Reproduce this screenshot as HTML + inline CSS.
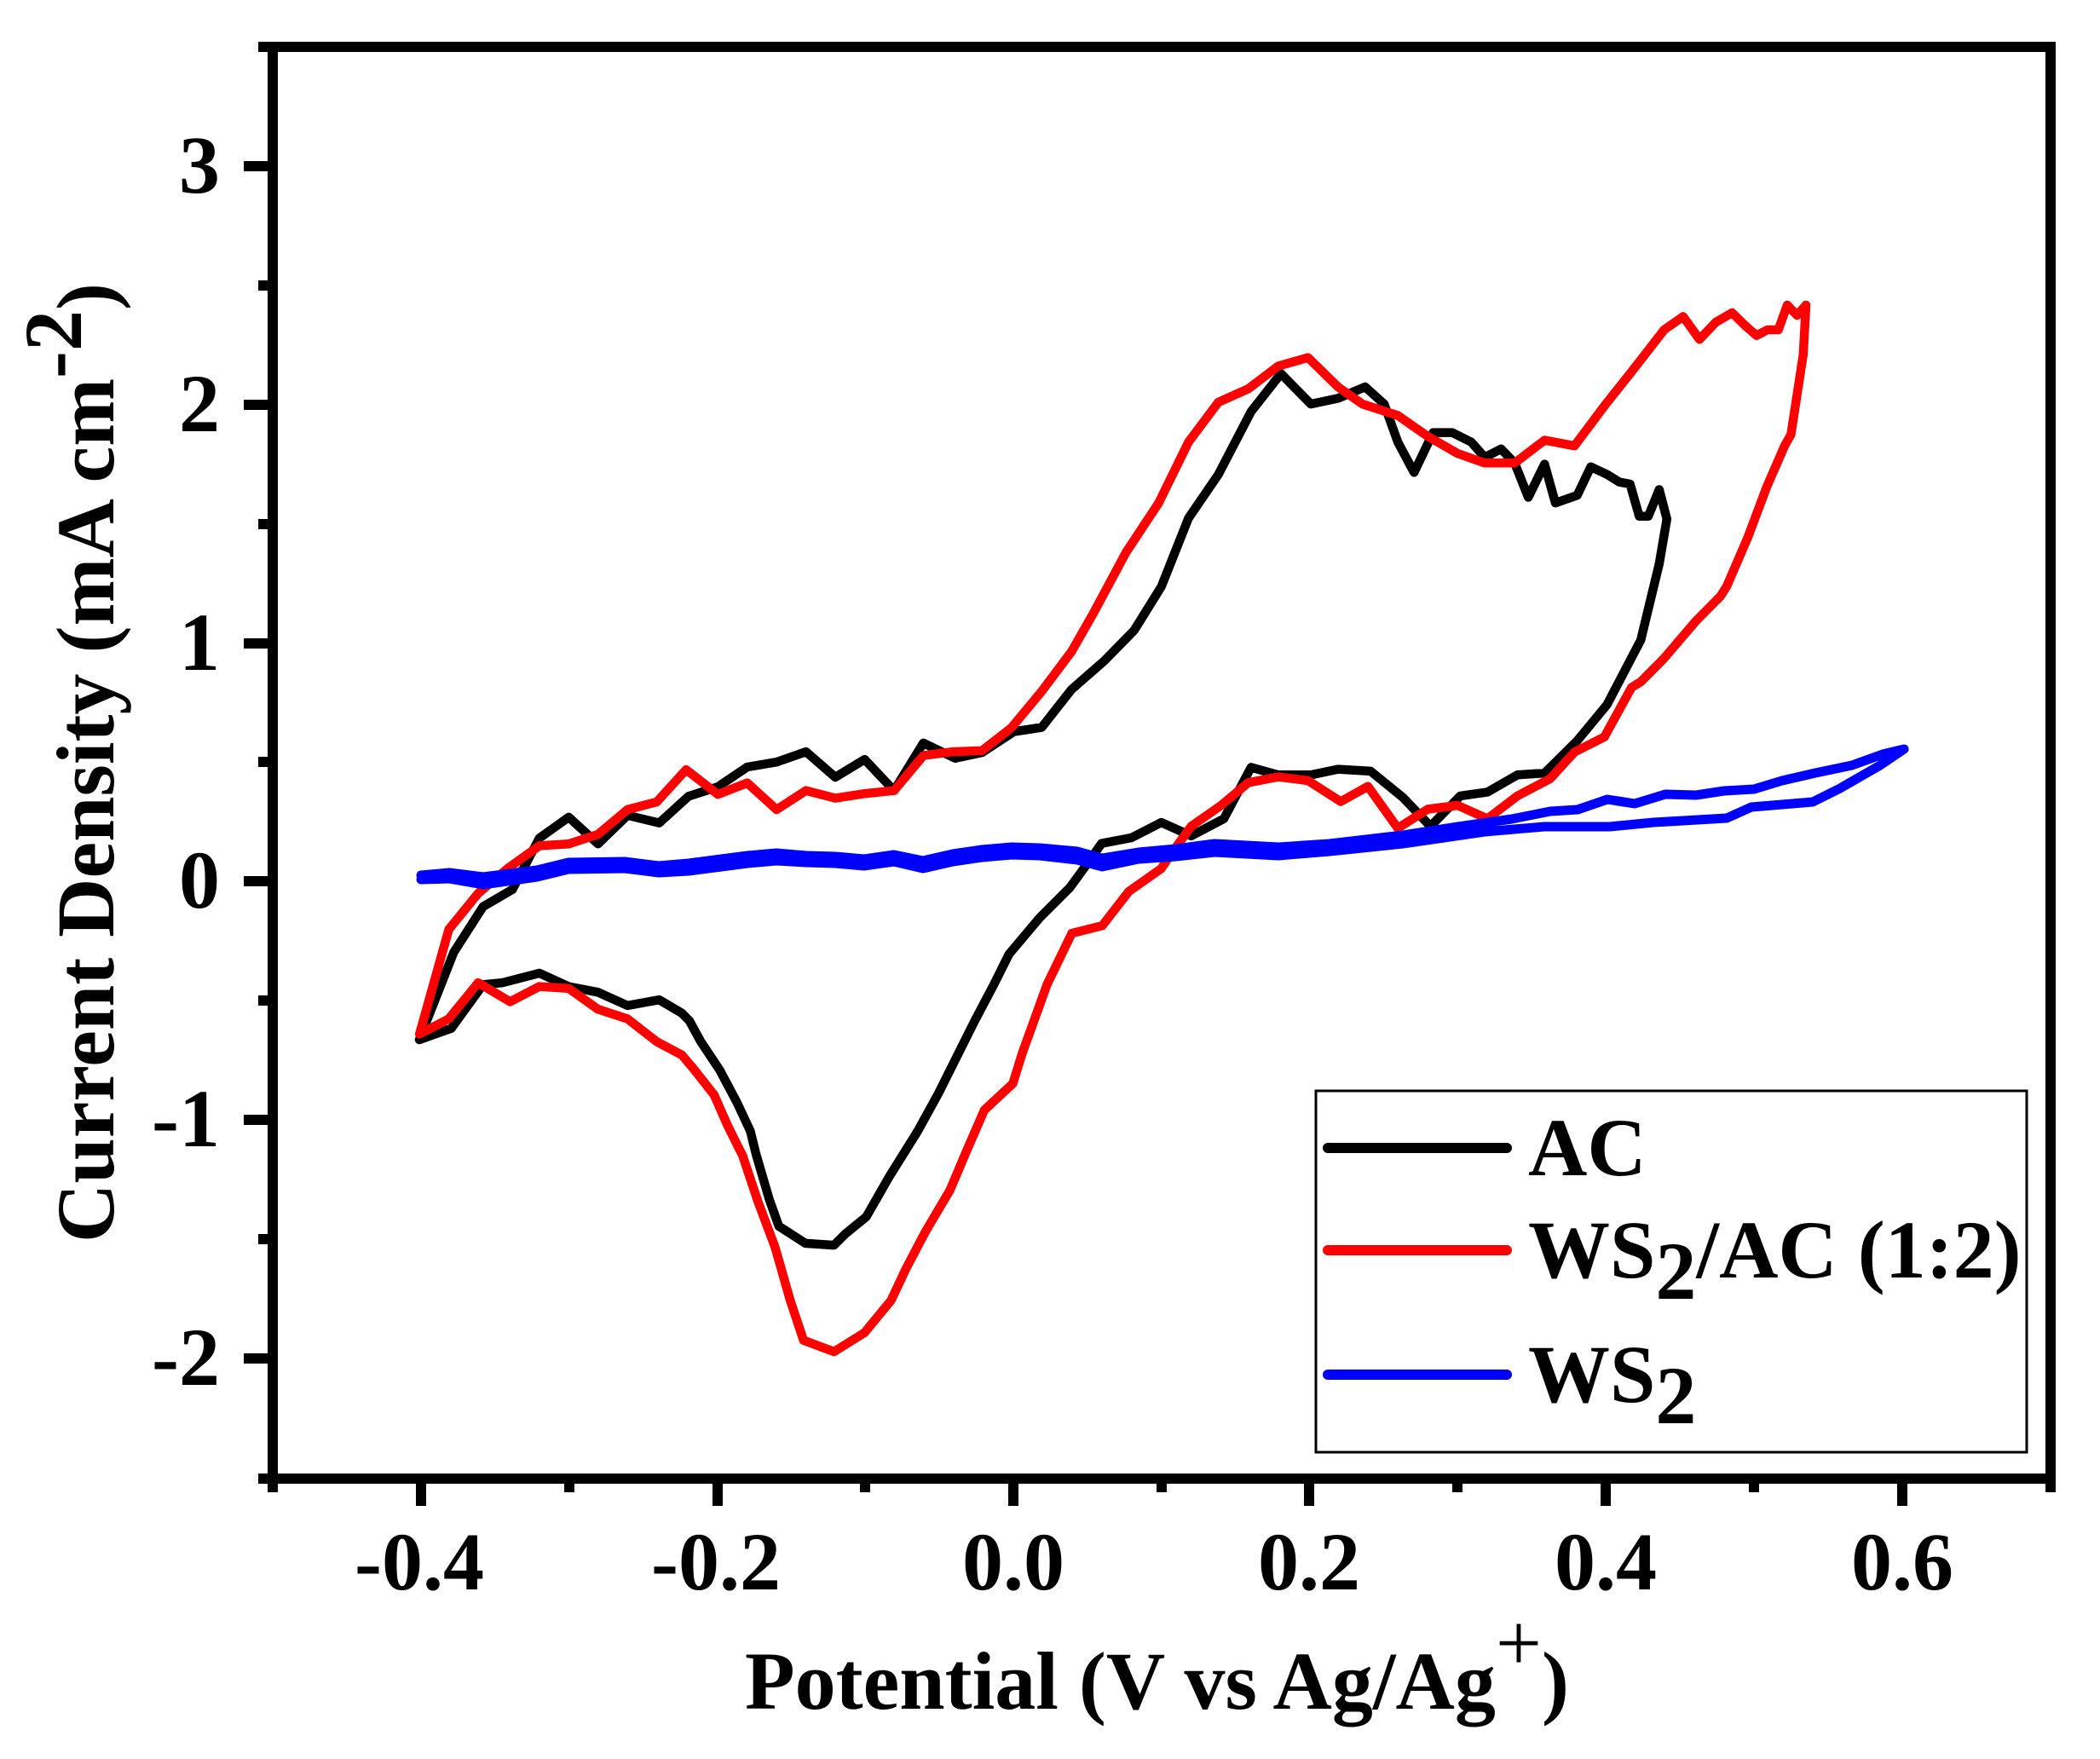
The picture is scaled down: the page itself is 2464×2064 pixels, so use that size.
<!DOCTYPE html>
<html>
<head>
<meta charset="utf-8">
<style>
  html, body { margin: 0; padding: 0; background: #ffffff; }
  svg { display: block; }
  text { font-family: "Liberation Serif", "Times New Roman", serif; font-weight: bold; fill: #000; }
</style>
</head>
<body>
<svg width="2464" height="2064" viewBox="0 0 2464 2064" xmlns="http://www.w3.org/2000/svg">
  <rect x="0" y="0" width="2464" height="2064" fill="#ffffff"/>

  <!-- Series: AC (black) -->
  <path fill="none" stroke="#000000" stroke-width="10.5" stroke-linejoin="round" stroke-linecap="round"
    d="M492,1220 L532.4,1117.4 L566.8,1063.8 L601.3,1043.7 L632.8,983.5 L667.3,958.9 L701.7,990.2 L736.2,956.7 L773.5,965.6 L807.9,934.4 L842.3,923.2 L876.8,900 L911.2,894.2 L945.7,882.1 L980.1,912 L1014.5,891.1 L1049,927.7 L1083.4,871.9 L1120.7,889.7 L1152.3,883 L1189.6,858.5 L1222.3,853.5 L1257.4,808.9 L1295.7,775.4 L1330.7,739.7 L1362.6,688.4 L1394.5,608 L1429.6,556.7 L1467.9,483 L1503,438.4 L1538,474.1 L1569.9,467.4 L1601.8,454 L1624.1,474.1 L1640.1,518.7 L1659.2,554.4 L1681.5,507.6 L1703.9,507.6 L1726.2,518.7 L1742.1,536.6 L1761.3,526.8 L1777.2,543.3 L1793.2,583.5 L1812.3,544.6 L1825,590.2 L1850.6,581.2 L1866.5,547.8 L1885.6,556.7 L1900,565.6 L1912.6,568 L1923.4,605.8 L1934,605.8 L1946.8,574.5 L1955.8,609 L1946.8,661.6 L1925.2,751 L1885.6,826.8 L1850.6,869.2 L1812.3,907.1 L1780.4,909.3 L1745.3,929.4 L1713.4,933.9 L1678.4,969.6 L1646.5,936.1 L1608.2,904.9 L1569.9,902.6 L1538,909.3 L1499.8,909.3 L1467.9,900.4 L1436,960.7 L1397.7,980.8 L1362.6,965.1 L1327.6,983 L1292.5,989.7 L1273.2,1017 L1255.3,1041.5 L1219.6,1077.2 L1183.9,1119.6 L1166.1,1155.3 L1143.7,1197.8 L1121.4,1242.4 L1101.3,1282.6 L1076.8,1327.2 L1043.3,1380.8 L1016.5,1427.7 L992,1447.7 L978.6,1461.1 L945.1,1458.9 L913.8,1438.8 L902.7,1407.6 L887,1354 L880.4,1327.2 L864.7,1293.7 L844.6,1255.8 L822.3,1222.3 L808.9,1197.8 L800,1188.8 L773.5,1173.2 L736.2,1179.9 L701.7,1164.3 L667.3,1157.6 L632.8,1141.9 L589.8,1153.1 L566.8,1155.3 L529.5,1206.7 Z"/>

  <!-- Series: WS2/AC (red) -->
  <path fill="none" stroke="#ff0000" stroke-width="10.5" stroke-linejoin="round" stroke-linecap="round"
    d="M492.2,1213.4 L526.6,1090.6 L561.1,1048.2 L595.5,1019.2 L632.8,992.4 L667.3,990.2 L701.7,979 L736.2,950 L770.6,941 L805,903.1 L842.3,932.1 L876.8,918.7 L911.2,950 L945.7,927.7 L980.1,936.6 L1014.5,931.2 L1049,927.7 L1083.4,886.6 L1117.9,882.1 L1152.3,880.8 L1186.7,854 L1222.3,811.1 L1257.4,764.3 L1282.9,719.6 L1321.2,648.2 L1359.5,590.2 L1394.5,518.7 L1429.6,471.9 L1464.7,456.2 L1499.8,429.5 L1534.8,419.6 L1569.9,454 L1598.6,474.1 L1640.1,487.5 L1675.2,512 L1710.2,532.1 L1742.1,543.3 L1777.2,543.3 L1812.3,516.5 L1847.4,523.2 L1882.5,476.3 L1914.3,436.2 L1952.6,387 L1974.9,371.4 L1994,398.2 L2013.2,378.1 L2032.3,367 L2048.3,382.6 L2061,393.7 L2073.8,387 L2086.6,387 L2097,358 L2108.6,370 L2119,358 L2115.8,416 L2101.4,509.8 L2094,523 L2072.7,572 L2051,630 L2026,688 L2018.7,699.6 L1990,728.6 L1952,773 L1925.2,800 L1914.3,806.7 L1882.5,864.7 L1847.4,882.5 L1818.7,913.8 L1780.4,933.9 L1745.3,960.7 L1710.2,945 L1675.2,949.5 L1640.1,971.8 L1605,922.7 L1573.1,940.6 L1534.8,916 L1499.8,911.6 L1464.7,918.3 L1432.8,945 L1397.7,969.6 L1375.4,1000 L1362.5,1019.2 L1324.5,1046 L1293.3,1086.2 L1257.6,1095.1 L1228.5,1155.3 L1199.5,1235.7 L1188.4,1271.4 L1154.9,1302.6 L1132.6,1354 L1114.7,1396.4 L1085.7,1445.5 L1063.4,1487.9 L1045.5,1525.9 L1014.3,1563.8 L978.6,1586.1 L942.8,1572.7 L927.2,1525.9 L909.4,1463.4 L889.3,1409.8 L871.4,1356.2 L853.6,1320.5 L837.9,1284.8 L813.4,1253.6 L800,1237.9 L770.6,1222.3 L736.2,1195.5 L701.7,1184.3 L667.3,1159.8 L632.8,1157.6 L598.4,1175.4 L561.1,1153.1 L526.6,1195.5 Z"/>

  <!-- Series: WS2 (blue) -->
  <path fill="none" stroke="#0000ff" stroke-width="11" stroke-linejoin="round" stroke-linecap="round"
    d="M494,1027 L527,1024 L567,1029 L630,1021 L667,1012 L733,1011 L773,1016 L808,1013 L877,1004 L911,1001 L946,1004 L980,1005 L1014,1008 L1049,1003 L1083,1010 L1118,1002 L1152,997 L1187,994 L1220,995 L1264,999 L1293,1007 L1336,1000 L1380,996 L1425,990 L1500,994 L1560,990 L1646,980 L1710,970 L1774,961 L1819,952 L1851,950 L1886,938 L1918,943 L1954,932 L1990,933 L2023,928 L2058,926 L2091,916 L2130,907 L2173,898 L2209,885 L2234,879 L2206,898 L2159,925 L2127,941 L2055,947 L2026,960 L1940,965 L1889,970 L1812,970 L1742,976 L1646,990 L1560,999 L1500,1004 L1425,1000 L1380,1005 L1336,1008 L1293,1017 L1264,1009 L1220,1004 L1187,1003 L1152,1006 L1118,1011 L1083,1019 L1049,1011 L1014,1016 L980,1013 L946,1012 L911,1010 L877,1013 L808,1022 L773,1024 L733,1019 L667,1020 L630,1029 L567,1038 L527,1031 L494,1032"/>

  <!-- Axes frame -->
  <rect x="320" y="55" width="2086" height="1680" fill="none" stroke="#000" stroke-width="12"/>

  <!-- Y ticks -->
  <g stroke="#000" stroke-width="12">
    <line x1="286" y1="195" x2="320" y2="195"/>
    <line x1="286" y1="475" x2="320" y2="475"/>
    <line x1="286" y1="755" x2="320" y2="755"/>
    <line x1="286" y1="1034" x2="320" y2="1034"/>
    <line x1="286" y1="1314" x2="320" y2="1314"/>
    <line x1="286" y1="1594" x2="320" y2="1594"/>
    <line x1="303" y1="55" x2="320" y2="55"/>
    <line x1="303" y1="335" x2="320" y2="335"/>
    <line x1="303" y1="615" x2="320" y2="615"/>
    <line x1="303" y1="894" x2="320" y2="894"/>
    <line x1="303" y1="1174" x2="320" y2="1174"/>
    <line x1="303" y1="1454" x2="320" y2="1454"/>
    <line x1="303" y1="1735" x2="320" y2="1735"/>
  </g>
  <!-- X ticks -->
  <g stroke="#000" stroke-width="12">
    <line x1="494" y1="1735" x2="494" y2="1767"/>
    <line x1="842" y1="1735" x2="842" y2="1767"/>
    <line x1="1189" y1="1735" x2="1189" y2="1767"/>
    <line x1="1536" y1="1735" x2="1536" y2="1767"/>
    <line x1="1884" y1="1735" x2="1884" y2="1767"/>
    <line x1="2232" y1="1735" x2="2232" y2="1767"/>
    <line x1="320" y1="1735" x2="320" y2="1751"/>
    <line x1="668" y1="1735" x2="668" y2="1751"/>
    <line x1="1015" y1="1735" x2="1015" y2="1751"/>
    <line x1="1363" y1="1735" x2="1363" y2="1751"/>
    <line x1="1710" y1="1735" x2="1710" y2="1751"/>
    <line x1="2058" y1="1735" x2="2058" y2="1751"/>
    <line x1="2406" y1="1735" x2="2406" y2="1751"/>
  </g>

  <!-- Y tick labels -->
  <g font-size="96" text-anchor="end">
    <text x="258" y="226">3</text>
    <text x="258" y="506">2</text>
    <text x="258" y="786">1</text>
    <text x="258" y="1065">0</text>
    <text x="258" y="1345">-1</text>
    <text x="258" y="1625">-2</text>
  </g>
  <!-- X tick labels -->
  <g font-size="96" text-anchor="middle">
    <text x="492" y="1865">-0.4</text>
    <text x="840" y="1865">-0.2</text>
    <text x="1189" y="1865">0.0</text>
    <text x="1536" y="1865">0.2</text>
    <text x="1884" y="1865">0.4</text>
    <text x="2232" y="1865">0.6</text>
  </g>

  <!-- Axis titles -->
  <text x="874" y="2005" font-size="96">Potential (V vs Ag/Ag<tspan dy="-45" font-weight="normal">+</tspan><tspan dy="45">)</tspan></text>
  <text transform="translate(133,895) rotate(-90)" font-size="96" text-anchor="middle">Current Density (mA cm<tspan dy="-38">-2</tspan><tspan dy="38">)</tspan></text>

  <!-- Legend -->
  <rect x="1544" y="1280" width="834" height="424" fill="#ffffff" stroke="#000" stroke-width="3"/>
  <line x1="1558" y1="1347" x2="1768" y2="1347" stroke="#000000" stroke-width="12" stroke-linecap="round"/>
  <line x1="1558" y1="1467" x2="1768" y2="1467" stroke="#ff0000" stroke-width="12" stroke-linecap="round"/>
  <line x1="1558" y1="1613" x2="1768" y2="1613" stroke="#0000ff" stroke-width="12" stroke-linecap="round"/>
  <text x="1793" y="1379" font-size="96">AC</text>
  <text x="1793" y="1499" font-size="96">WS<tspan dy="25">2</tspan><tspan dy="-25">/AC (1:2)</tspan></text>
  <text x="1793" y="1645" font-size="96">WS<tspan dy="25">2</tspan></text>
</svg>
</body>
</html>
